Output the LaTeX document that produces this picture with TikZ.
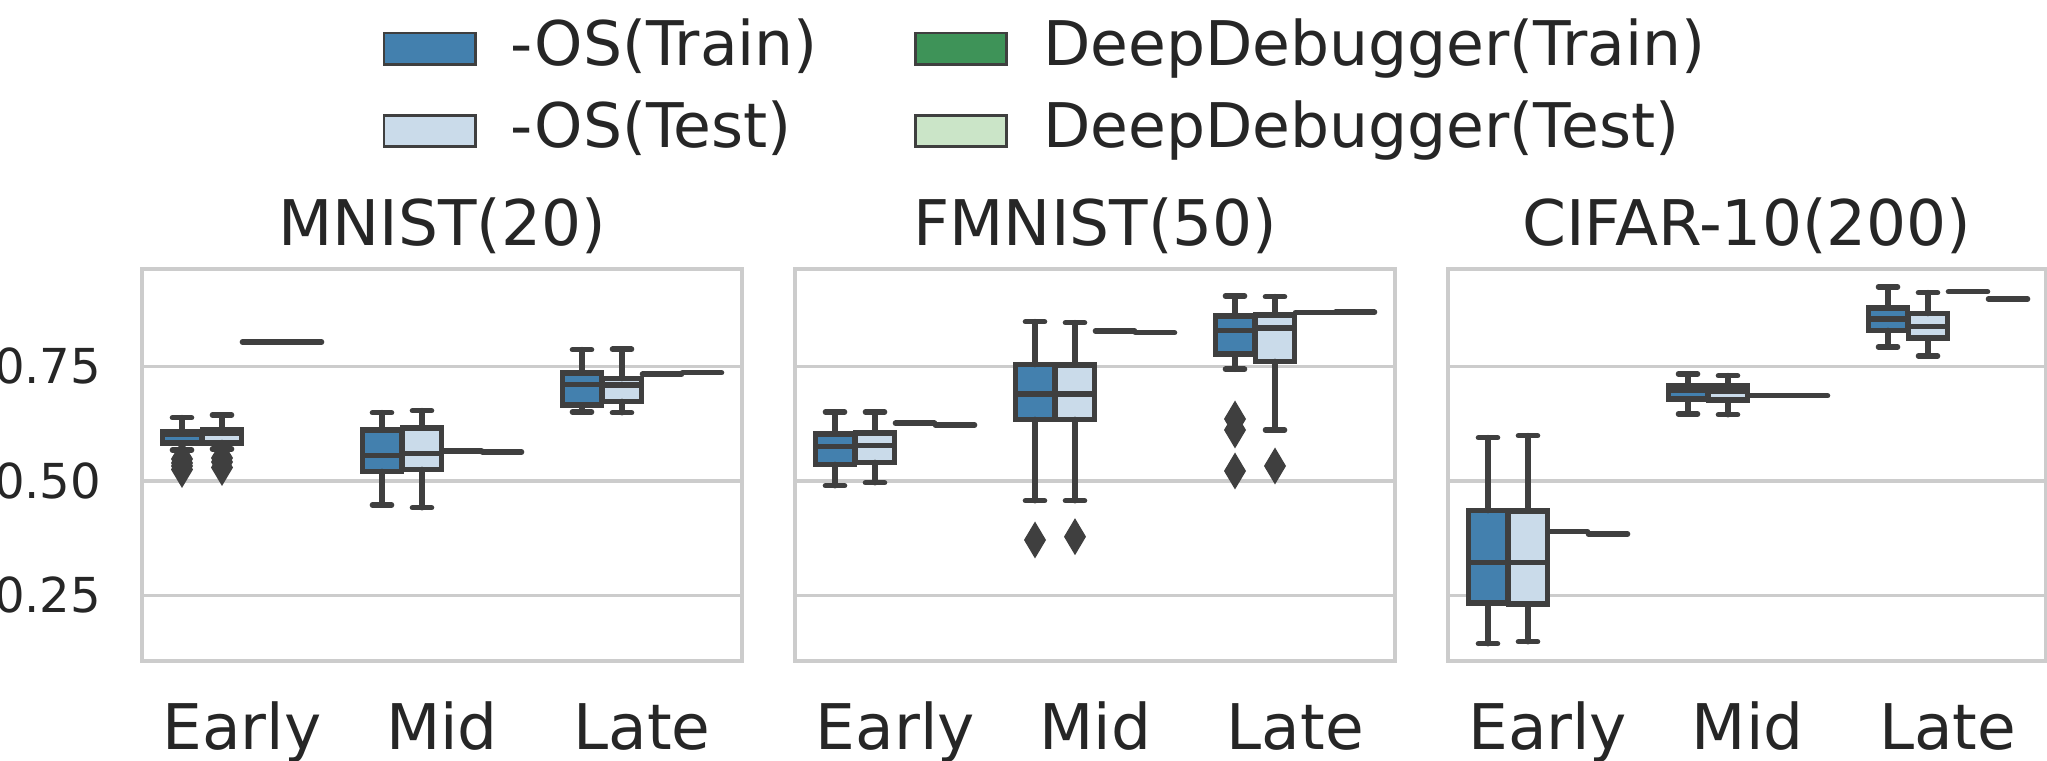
\documentclass[tikz,border=0pt]{standalone}
\usepackage{fontspec}
\setmainfont{DejaVu Sans}

\definecolor{osblue}{HTML}{4380AE}
\definecolor{oslight}{HTML}{CADBEA}
\definecolor{ddgreen}{HTML}{3E9358}
\definecolor{ddlight}{HTML}{CBE5C8}
\definecolor{edgegray}{HTML}{3F3F3F}
\definecolor{gridgray}{HTML}{CCCCCC}
\definecolor{txtgray}{HTML}{262626}

\def\boxdata{182/432/434/443/417.7/450/osblue, 222/430/433.2/443/415/449/oslight,
	382/430/455.7/471.5/412.7/505/osblue, 422/428/453.7/469.5/410.7/507.7/oslight,
	582/373/384.7/405/349.7/412/osblue, 622/378.5/385/401.5/349.3/412.7/oslight,
	835/434/446.7/464.5/412/485.7/osblue, 875/433/445.7/462.5/412/482.7/oslight,
	1035/364.5/394/419.5/321.7/500.7/osblue, 1075/365/394/419.5/322.7/500.7/oslight,
	1235/316/330.7/354/296/369.3/osblue, 1275/315/328.3/361.5/296.7/430/oslight,
	1488/510.5/562.7/603/437.7/643.7/osblue, 1528/511/562.7/604/435.7/641.7/oslight,
	1688/385.5/390.5/399/374/414/osblue, 1728/386/391.5/400/375.7/414.7/oslight,
	1888/308/318.8/330.5/287/347/osblue, 1928/313.5/326.7/338/292.7/356/oslight}

\begin{document}
\begin{tikzpicture}[x=0.01cm, y=-0.01cm,
	every node/.style={inner sep=0pt, text=txtgray},
	spine/.style={draw=gridgray, line width=0.038cm},
	gridln/.style={draw=gridgray, line width=0.034cm},
	boxbody/.style={draw=edgegray, line width=0.056cm},
	boxline/.style={draw=edgegray, line width=0.056cm, line cap=round},
	flier/.style={fill=edgegray},
	legpatch/.style={draw=edgegray, line width=0.027cm, minimum width=0.913cm, minimum height=0.315cm},
	bigtext/.style={font=\fontsize{17.9}{21}\selectfont},
	legtext/.style={font=\fontsize{17.5}{21}\selectfont},
	ytext/.style={font=\fontsize{13.7}{16}\selectfont}]
	\useasboundingbox (0,0) rectangle (2047,761);

	\foreach \pl/\pr/\ttl [count=\i] in {142/742/MNIST(20), 795.3/1395.3/FMNIST(50), 1447.7/2045.7/CIFAR-10(200)} {
		\foreach \gy in {366.5,481,595.5}
			\draw[gridln] (\pl,\gy) -- (\pr,\gy);
		\draw[spine] (\pl,269.3) rectangle (\pr,661);
		\node[bigtext, anchor=base] (title\i) at ({(\pl+\pr)/2},246) {\ttl};
		\foreach \lbl [count=\j] in {Early,Mid,Late}
			\node[bigtext, anchor=base] (tick\i\j) at ({\pl+200*\j-100},750) {\lbl};
	}
	\foreach \lbl/\gy [count=\k] in {0.75/366.5, 0.50/481, 0.25/595.5}
		\node[ytext, anchor=base east] (ylab\k) at (102,{\gy+17.5}) {\lbl};

	\foreach \cx/\qt/\md/\qb/\wt/\wb/\fc in \boxdata
		\filldraw[boxbody, fill=\fc] (\cx-19.5,\qt) rectangle (\cx+19.5,\qb);
	\foreach \cx/\qt/\md/\qb/\wt/\wb/\fc in \boxdata {
		\draw[boxline] (\cx,\qt) -- (\cx,\wt) (\cx-9.5,\wt) -- (\cx+9.5,\wt);
		\draw[boxline] (\cx,\qb) -- (\cx,\wb) (\cx-9.5,\wb) -- (\cx+9.5,\wb);
		\draw[boxline, line cap=butt] (\cx-19.5,\md) -- (\cx+19.5,\md);
	}
	\foreach \cx/\dy in {262/342, 302/342, 462/451, 502/452, 662/374.3, 702/372.7,
		915/423.3, 955/425, 1115/331, 1155/332.7, 1315/312.5, 1355/312.3,
		1568/531.7, 1608/534, 1768/395.7, 1808/395.7, 1968/291.7, 2008/299}
		\draw[boxline] (\cx-19.5,\dy) -- (\cx+19.5,\dy);
	\foreach \fx/\fy in {182/459, 182/463, 182/466, 182/469.5, 222/458, 222/462, 222/467.5,
		1035/540, 1075/536.7, 1235/419, 1235/430, 1235/471, 1275/466}
		\fill[flier] (\fx,\fy-18.5) -- (\fx+11,\fy) -- (\fx,\fy+18.5) -- (\fx-11,\fy) -- cycle;

	\node[legpatch, fill=osblue] (osTrain) at (429.7,48.9) {};
	\node[legpatch, fill=oslight] (osTest) at (429.7,131) {};
	\node[legpatch, fill=ddgreen] (ddTrain) at (961,48.9) {};
	\node[legpatch, fill=ddlight] (ddTest) at (961,131) {};
	\node[legtext, anchor=base west] (osTrainLbl) at (510,66) {-OS(Train)};
	\node[legtext, anchor=base west] (osTestLbl) at (510,147.7) {-OS(Test)};
	\node[legtext, anchor=base west] (ddTrainLbl) at (1042.5,66) {DeepDebugger(Train)};
	\node[legtext, anchor=base west] (ddTestLbl) at (1042.5,147.7) {DeepDebugger(Test)};
\end{tikzpicture}
\end{document}
